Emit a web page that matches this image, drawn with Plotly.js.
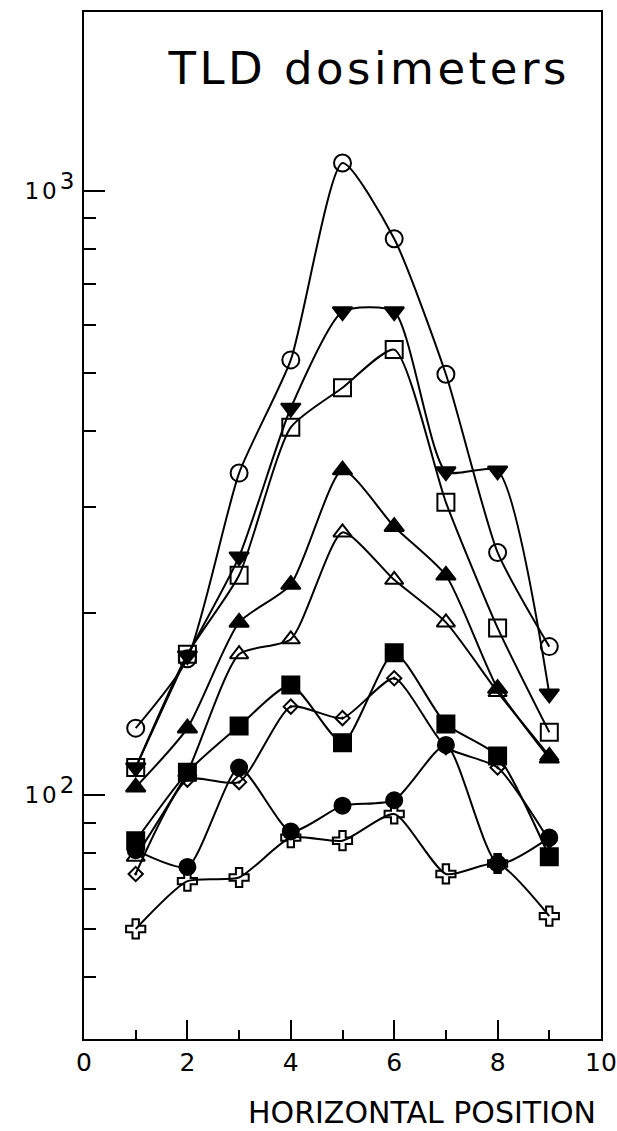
<!DOCTYPE html>
<html>
<head>
<meta charset="utf-8">
<script src="https://cdn.plot.ly/plotly-3.0.1.min.js"></script>
<style>
  html, body { margin: 0; padding: 0; background: #fff; }
  #chart { width: 617px; height: 1131px; }
  g.annotation[data-index="0"] text { letter-spacing: 3.5px; }
  g.ytick text { letter-spacing: 3px; }
</style>
</head>
<body>
<div id="chart"></div>
<script>
// Horizontal positions (x)
const positions = [1, 2, 3, 4, 5, 6, 7, 8, 9];

// Dose readings per dosimeter series
const openCircle   = [129, 168, 341, 525, 1112, 833, 497, 252, 176];
const filledDown   = [111, 170, 248, 437, 631, 631, 343, 344, 147];
const openSquare   = [111, 171, 231, 406, 472, 546, 305, 189, 127];
const filledUp     = [103, 129, 193, 223, 345, 278, 231, 150, 115];
const openUp       = [79, 109, 171, 181, 272, 227, 193, 148, 116];
const filledSquare = [84, 109, 130, 152, 122, 172, 131, 116, 79];
const openDiamond  = [74, 106, 105, 140, 134, 156, 120, 111, 84];
const filledCircle = [81, 76, 111, 87, 96, 98, 121, 77, 85];
const openCross    = [60, 72, 73, 85, 84, 93, 74, 77, 63];

// Axis ticks
const xTickVals = [0, 2, 4, 6, 8, 10];
const xTickText = ['0', '2', '4', '6', '8', '10'];
const xMinorVals = [1, 3, 5, 7, 9];
const yTickVals = [100, 1000];
const yTickText = ['10<sup><span style="font-size:23px">2</span></sup>',
                   '10<sup><span style="font-size:23px">3</span></sup>'];
const yMinorVals = [50, 60, 70, 80, 90, 200, 300, 400, 500, 600, 700, 800, 900];

const seriesDefs = [
  { y: openCircle,   symbol: 'circle-open',        size: 17 },
  { y: filledDown,   symbol: 'triangle-down',      size: 17 },
  { y: openSquare,   symbol: 'square-open',        size: 17 },
  { y: filledUp,     symbol: 'triangle-up',        size: 17 },
  { y: openUp,       symbol: 'triangle-up-open',   size: 16 },
  { y: filledSquare, symbol: 'square',             size: 17 },
  { y: openDiamond,  symbol: 'diamond-open-dot',   size: 11 },
  { y: filledCircle, symbol: 'circle',             size: 16 },
  { y: openCross,    symbol: 'cross-open',         size: 16 }
];

const traces = seriesDefs.map(s => ({
  type: 'scatter',
  mode: 'lines+markers',
  x: positions,
  y: s.y,
  line: { color: '#000', width: 2, shape: 'spline', smoothing: 0.6 },
  marker: { symbol: s.symbol, size: s.size, color: '#000',
            line: { color: '#000', width: 2 } },
  showlegend: false,
  hoverinfo: 'x+y'
}));

// empty trace so the overlay axes (used for the short minor ticks) are drawn
traces.push({ type: 'scatter', mode: 'markers', x: [], y: [], xaxis: 'x2', yaxis: 'y2', showlegend: false });

const font = { family: 'DejaVu Sans, Verdana, sans-serif', color: '#000' };
const yRange = [1.596, 3.296];

const layout = {
  width: 617,
  height: 1131,
  margin: { l: 84, r: 16, t: 12, b: 92 },
  paper_bgcolor: '#fff',
  plot_bgcolor: '#fff',
  font: font,
  showlegend: false,
  xaxis: {
    range: [0, 10],
    tickmode: 'array',
    tickvals: xTickVals,
    ticktext: xTickText,
    ticks: 'inside',
    ticklen: 19,
    tickwidth: 2,
    tickcolor: '#000',
    showline: true,
    linecolor: '#000',
    linewidth: 2,
    mirror: true,
    showgrid: false,
    zeroline: false,
    tickfont: { family: font.family, size: 25, color: '#000' }
  },
  yaxis: {
    type: 'log',
    range: yRange,
    tickmode: 'array',
    tickvals: yTickVals,
    ticktext: yTickText,
    ticks: 'inside',
    ticklen: 21,
    tickwidth: 2,
    tickcolor: '#000',
    showline: true,
    linecolor: '#000',
    linewidth: 2,
    mirror: true,
    showgrid: false,
    zeroline: false,
    tickfont: { family: font.family, size: 23, color: '#000' }
  },
  xaxis2: {
    overlaying: 'x',
    anchor: 'y',
    side: 'bottom',
    range: [0, 10],
    tickmode: 'array',
    tickvals: xMinorVals,
    ticks: 'inside',
    ticklen: 9,
    tickwidth: 2,
    tickcolor: '#000',
    showticklabels: false,
    showline: false,
    showgrid: false,
    zeroline: false
  },
  yaxis2: {
    overlaying: 'y',
    anchor: 'x',
    side: 'left',
    type: 'log',
    range: yRange,
    tickmode: 'array',
    tickvals: yMinorVals,
    ticks: 'inside',
    ticklen: 12,
    tickwidth: 2,
    tickcolor: '#000',
    showticklabels: false,
    showline: false,
    showgrid: false,
    zeroline: false
  },
  annotations: [
    {
      text: 'TLD dosimeters',
      xref: 'paper', yref: 'paper',
      x: 0.550, y: 0.945,
      xanchor: 'center', yanchor: 'middle',
      showarrow: false,
      font: { family: font.family, size: 45, color: '#000' }
    },
    {
      text: 'HORIZONTAL POSITION',
      xref: 'paper', yref: 'paper',
      x: 0.654, y: -0.072,
      xanchor: 'center', yanchor: 'middle',
      showarrow: false,
      font: { family: font.family, size: 30, color: '#000' }
    }
  ]
};

Plotly.newPlot('chart', traces, layout, { staticPlot: true, displayModeBar: false });
</script>
</body>
</html>
